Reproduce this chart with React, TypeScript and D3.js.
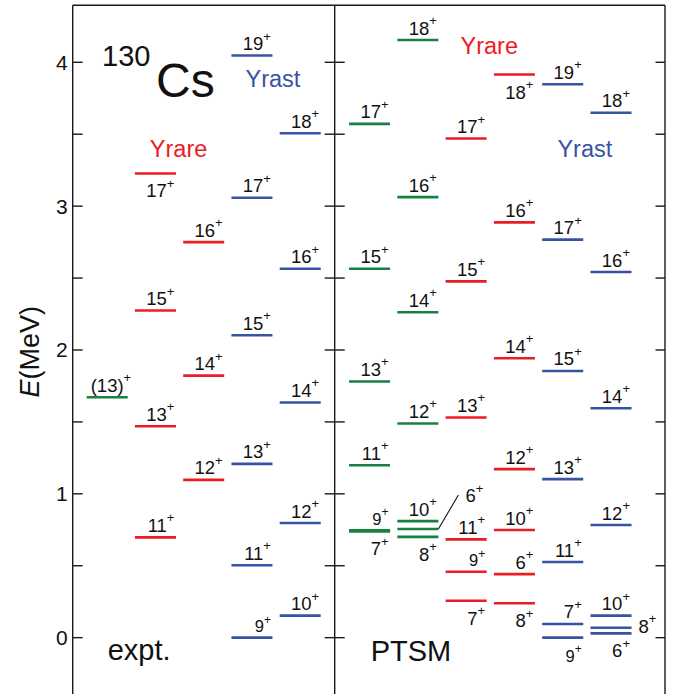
import * as d3 from 'd3'

const W = 675
const H = 694

// level energies (MeV) read from the scheme, spins without the parity sign
const exGreenSpin = ['(13)']
const exGreenE = [1.671]
const exGreenPos = ['above']

const exRare1Spin = ['11', '13', '15', '17']
const exRare1E = [0.697, 1.47, 2.274, 3.227]
const exRare1Pos = ['above', 'above', 'above', 'below']

const exRare2Spin = ['12', '14', '16']
const exRare2E = [1.097, 1.822, 2.75]
const exRare2Pos = ['above', 'above', 'above']

const exYrast1Spin = ['9', '11', '13', '15', '17', '19']
const exYrast1E = [0, 0.503, 1.208, 2.102, 3.058, 4.047]
const exYrast1Pos = ['above', 'above', 'above', 'above', 'above', 'above']

const exYrast2Spin = ['10', '12', '14', '16', '18']
const exYrast2E = [0.153, 0.797, 1.635, 2.565, 3.507]
const exYrast2Pos = ['above', 'above', 'above', 'above', 'above']

const thGreen1Spin = ['7', '9', '11', '13', '15', '17']
const thGreen1E = [0.739, 0.747, 1.199, 1.781, 2.565, 3.572]
const thGreen1Pos = ['below', 'above', 'above', 'above', 'above', 'above']

const thGreen2Spin = ['8', '6', '10', '12', '14', '16', '18']
const thGreen2E = [0.701, 0.755, 0.81, 1.489, 2.262, 3.063, 4.155]
const thGreen2Pos = ['below', 'line', 'above', 'above', 'above', 'above', 'above']

const thRare1Spin = ['7', '9', '11', '13', '15', '17']
const thRare1E = [0.257, 0.458, 0.683, 1.531, 2.477, 3.47]
const thRare1Pos = ['below', 'above', 'above', 'above', 'above', 'above']

const thRare2Spin = ['8', '6', '10', '12', '14', '16', '18']
const thRare2E = [0.239, 0.442, 0.748, 1.172, 1.942, 2.887, 3.915]
const thRare2Pos = ['below', 'above', 'above', 'above', 'above', 'above', 'below']

const thYrast1Spin = ['9', '7', '11', '13', '15', '17', '19']
const thYrast1E = [0, 0.095, 0.526, 1.102, 1.854, 2.767, 3.847]
const thYrast1Pos = ['below', 'above', 'above', 'above', 'above', 'above', 'above']

const thYrast2Spin = ['6', '8', '10', '12', '14', '16', '18']
const thYrast2E = [0.03, 0.069, 0.153, 0.783, 1.595, 2.542, 3.649]
const thYrast2Pos = ['below', 'right', 'above', 'above', 'above', 'above', 'above']

const yTicks = [0, 1, 2, 3, 4]

const GREEN = '#17813f'
const RED = '#ec1c24'
const BLUE = '#3953a4'
const FONT = 'Liberation Sans, Arial, Helvetica, sans-serif'

const exptCols = [
  { key: 'g', spin: exGreenSpin, e: exGreenE, pos: exGreenPos, color: GREEN },
  { key: 'r1', spin: exRare1Spin, e: exRare1E, pos: exRare1Pos, color: RED },
  { key: 'r2', spin: exRare2Spin, e: exRare2E, pos: exRare2Pos, color: RED },
  { key: 'b1', spin: exYrast1Spin, e: exYrast1E, pos: exYrast1Pos, color: BLUE },
  { key: 'b2', spin: exYrast2Spin, e: exYrast2E, pos: exYrast2Pos, color: BLUE },
]
const thCols = [
  { key: 'g1', spin: thGreen1Spin, e: thGreen1E, pos: thGreen1Pos, color: GREEN },
  { key: 'g2', spin: thGreen2Spin, e: thGreen2E, pos: thGreen2Pos, color: GREEN },
  { key: 'r1', spin: thRare1Spin, e: thRare1E, pos: thRare1Pos, color: RED },
  { key: 'r2', spin: thRare2Spin, e: thRare2E, pos: thRare2Pos, color: RED },
  { key: 'b1', spin: thYrast1Spin, e: thYrast1E, pos: thYrast1Pos, color: BLUE },
  { key: 'b2', spin: thYrast2Spin, e: thYrast2E, pos: thYrast2Pos, color: BLUE },
]

const frame = { left: 72.7, mid: 334.7, right: 665, top: 5.3 }

function SpinLabel({ x, y, spin, anchor }) {
  const small = spin === '9'
  return (
    <text x={x} y={y} textAnchor={anchor} fontSize={small ? 16.5 : 18.5} fill="#111">
      {spin}
      <tspan fontSize={small ? 12 : 13} dy={small ? -8.5 : -9.5}>+</tspan>
    </text>
  )
}

function Panel({ cols, x, y }) {
  const bw = x.bandwidth()
  return (
    <g>
      {cols.map(c => {
        const x0 = x(c.key)
        const cx = x0 + bw / 2
        return (
          <g key={c.key}>
            {c.e.map((e, i) => {
              const ly = y(e)
              const pos = c.pos[i]
              // wide labels like "(13)" sit centred, so their end runs further right
              const endX = cx + (c.spin[i].length > 2 ? 24 : 19)
              let label
              if (pos === 'above') label = <SpinLabel x={endX} y={ly - 5.5} spin={c.spin[i]} anchor="end" />
              else if (pos === 'below') label = <SpinLabel x={endX} y={ly + 24} spin={c.spin[i]} anchor="end" />
              else if (pos === 'right') label = <SpinLabel x={x0 + bw + 7} y={ly + 5} spin={c.spin[i]} anchor="start" />
              else label = (
                <g>
                  <line x1={x0 + bw} y1={ly} x2={x0 + bw + 20} y2={ly - 34} stroke="#111" strokeWidth={1.1} />
                  <SpinLabel x={x0 + bw + 27} y={ly - 27} spin={c.spin[i]} anchor="start" />
                </g>
              )
              return (
                <g key={i}>
                  <line x1={x0} x2={x0 + bw} y1={ly} y2={ly} stroke={c.color} strokeWidth={2.6} />
                  {label}
                </g>
              )
            })}
          </g>
        )
      })}
    </g>
  )
}

export default function App() {
  const y = d3.scaleLinear().domain([-0.4, 4.4]).range([695.2, 4.76])

  const xExpt = d3.scaleBand()
    .domain(exptCols.map(c => c.key))
    .range([frame.left, frame.mid])
    .paddingInner(0.15)
    .paddingOuter(0.29)
    .align(0.5)

  const xTh = d3.scaleBand()
    .domain(thCols.map(c => c.key))
    .range([frame.mid, frame.right])
    .paddingInner(0.15)
    .paddingOuter(0.495)
    .align(0.3)

  const allTicks = d3.range(0, 4.01, 0.5)
  const bw = xExpt.bandwidth()
  const cEx = k => xExpt(k) + bw / 2
  const cTh = k => xTh(k) + xTh.bandwidth() / 2

  return (
    <svg width={W} height={H} style={{ position: 'absolute', left: 0, top: 0, background: '#fff' }} fontFamily={FONT}>
      {/* frame */}
      <g stroke="#1a1a1a" strokeWidth={1.4} fill="none">
        <line x1={frame.left} x2={frame.right} y1={frame.top} y2={frame.top} />
        <line x1={frame.left} x2={frame.left} y1={frame.top} y2={H + 2} />
        <line x1={frame.mid} x2={frame.mid} y1={frame.top} y2={H + 2} />
        <line x1={frame.right} x2={frame.right} y1={frame.top} y2={H + 2} />
        {allTicks.map(t => (
          <g key={t}>
            <line x1={frame.left} x2={frame.left + 10} y1={y(t)} y2={y(t)} />
            <line x1={frame.mid - 10} x2={frame.mid + 10} y1={y(t)} y2={y(t)} />
            <line x1={frame.right - 9.5} x2={frame.right} y1={y(t)} y2={y(t)} />
          </g>
        ))}
      </g>
      {yTicks.map(t => (
        <text key={t} x={frame.left - 5} y={y(t) + 7.5} textAnchor="end" fontSize={21} fill="#111">{t}</text>
      ))}
      <text transform={`translate(39, ${(frame.top + H) / 2 + 2}) rotate(-90)`} textAnchor="middle" fontSize={27} fill="#111">
        <tspan fontStyle="italic">E</tspan>(MeV)
      </text>

      <Panel cols={exptCols} x={xExpt} y={y} />
      <Panel cols={thCols} x={xTh} y={y} />

      {/* annotations */}
      <text x={102} y={66} fontSize={29} fill="#111">130</text>
      <text x={156} y={96.7} fontSize={48} fill="#111">Cs</text>
      <text x={(cEx('r1') + cEx('r2')) / 2 - 1} y={y(3.344)} textAnchor="middle" fontSize={23.5} fill={RED}>Yrare</text>
      <text x={cEx('b1') + 21} y={y(3.826)} textAnchor="middle" fontSize={23.5} fill={BLUE}>Yrast</text>
      <text x={(cTh('r1') + cTh('r2')) / 2 - 1} y={y(4.057)} textAnchor="middle" fontSize={23.5} fill={RED}>Yrare</text>
      <text x={(cTh('b1') + cTh('b2')) / 2 - 2} y={y(3.344)} textAnchor="middle" fontSize={23.5} fill={BLUE}>Yrast</text>
      <text x={107.7} y={660} fontSize={29} fill="#111">expt.</text>
      <text x={370.7} y={661} fontSize={29} fill="#111">PTSM</text>
    </svg>
  )
}
